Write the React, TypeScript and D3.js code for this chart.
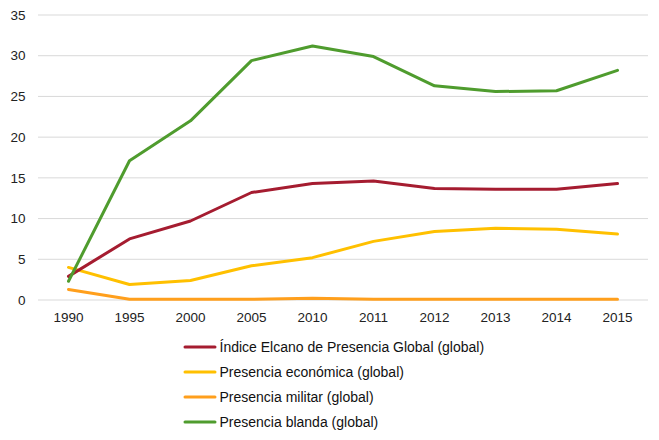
import { useEffect, useRef } from 'react';
import * as d3 from 'd3';

const years = ['1990', '1995', '2000', '2005', '2010', '2011', '2012', '2013', '2014', '2015'];
const indiceGlobal = [2.9, 7.5, 9.7, 13.2, 14.3, 14.6, 13.7, 13.6, 13.6, 14.3];
const economica = [4.0, 1.9, 2.4, 4.2, 5.2, 7.2, 8.4, 8.8, 8.7, 8.1];
const militar = [1.3, 0.1, 0.1, 0.1, 0.2, 0.1, 0.1, 0.1, 0.1, 0.1];
const blanda = [2.3, 17.1, 22.0, 29.4, 31.2, 29.9, 26.3, 25.6, 25.7, 28.2];
const yTicks = [0, 5, 10, 15, 20, 25, 30, 35];

const series = [
  { label: 'Índice Elcano de Presencia Global (global)', values: indiceGlobal, color: '#a51c30' },
  { label: 'Presencia económica (global)', values: economica, color: '#ffc000' },
  { label: 'Presencia militar (global)', values: militar, color: '#ff9f1c' },
  { label: 'Presencia blanda (global)', values: blanda, color: '#4f9c2e' },
];

export default function App() {
  const svgRef = useRef<SVGSVGElement>(null);

  useEffect(() => {
    const svg = d3.select(svgRef.current);
    svg.selectAll('*').remove();

    const W = 659;
    const H = 440;
    const left = 38;
    const right = 648;
    const top = 15;
    const bottom = 300;
    const font = 'Liberation Sans, Arial, sans-serif';

    const x = d3.scalePoint<string>().domain(years).range([left, right]).padding(0.5);
    const y = d3.scaleLinear().domain([0, 35]).range([bottom, top]);

    // gridlines
    svg.append('g')
      .selectAll('line')
      .data(yTicks)
      .join('line')
      .attr('x1', left)
      .attr('x2', right)
      .attr('y1', d => y(d))
      .attr('y2', d => y(d))
      .attr('stroke', '#d9d9d9')
      .attr('stroke-width', 1);

    // y labels
    svg.append('g')
      .selectAll('text')
      .data(yTicks)
      .join('text')
      .attr('x', 25.5)
      .attr('y', d => y(d))
      .attr('dy', '0.35em')
      .attr('text-anchor', 'end')
      .attr('font-family', font)
      .attr('font-size', 13.5)
      .attr('fill', '#222')
      .text(d => String(d));

    // x labels
    svg.append('g')
      .selectAll('text')
      .data(years)
      .join('text')
      .attr('x', d => x(d)!)
      .attr('y', 321.5)
      .attr('text-anchor', 'middle')
      .attr('font-family', font)
      .attr('font-size', 13.5)
      .attr('fill', '#222')
      .text(d => d);

    const line = d3
      .line<number>()
      .x((_, i) => x(years[i])!)
      .y(d => y(d));

    const lines = svg.append('g');
    [series[1], series[2], series[0], series[3]].forEach(s => {
      lines.append('path')
        .datum(s.values)
        .attr('fill', 'none')
        .attr('stroke', s.color)
        .attr('stroke-width', 3)
        .attr('stroke-linecap', 'round')
        .attr('stroke-linejoin', 'round')
        .attr('d', line);
    });

    // legend
    const legend = svg.append('g').attr('transform', 'translate(185,347)');
    series.forEach((s, i) => {
      const g = legend.append('g').attr('transform', `translate(0,${i * 25})`);
      g.append('line')
        .attr('x1', 0)
        .attr('x2', 30)
        .attr('stroke', s.color)
        .attr('stroke-width', 3)
        .attr('stroke-linecap', 'round');
      g.append('text')
        .attr('x', 34.5)
        .attr('dy', '0.35em')
        .attr('font-family', font)
        .attr('font-size', 14)
        .attr('fill', '#111')
        .text(s.label);
    });

    svg.attr('width', W).attr('height', H);
  }, []);

  return (
    <div style={{ position: 'absolute', left: 0, top: 0 }}>
      <svg ref={svgRef} width={659} height={440} style={{ display: 'block', background: '#fff' }} />
    </div>
  );
}
